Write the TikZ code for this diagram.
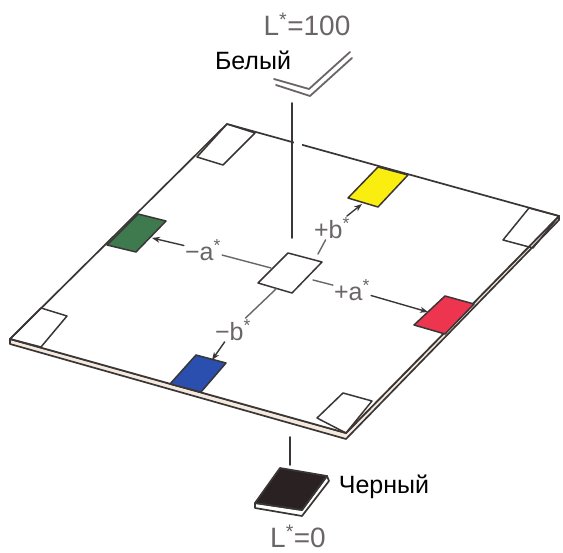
\documentclass[tikz,border=0pt]{standalone}
\usepackage{fontspec}
\setmainfont{Liberation Sans}
\usetikzlibrary{arrows.meta,calc}
\definecolor{ink}{HTML}{3A3636}
\definecolor{lbl}{HTML}{6A6666}
\definecolor{cream}{HTML}{F4E9DE}
\definecolor{pgreen}{HTML}{3E7A4E}
\definecolor{pyellow}{HTML}{FAEE10}
\definecolor{pred}{HTML}{EE3550}
\definecolor{pblue}{HTML}{2A4FAE}
\definecolor{pblack}{HTML}{2A2222}
\begin{document}
\begin{tikzpicture}[x=1pt,y=-1pt,line join=round,line cap=round,
  edge/.style={draw=ink,line width=1.7pt},
  patch/.style={draw=ink,line width=1.5pt},
  axisline/.style={draw=ink,line width=1.8pt},
  lab/.style={text=lbl,font=\fontsize{25}{25}\selectfont,inner sep=1pt},
  big/.style={text=lbl,font=\fontsize{28}{28}\selectfont,inner sep=1pt},
  rus/.style={text=black,font=\fontsize{25}{25}\selectfont,inner sep=1pt},
  link/.style={draw=lbl,line width=1.4pt},
  arr/.style={draw=ink,line width=1.4pt,-{Stealth[length=8pt,width=6pt]}}]
\useasboundingbox (0,0) rectangle (563,553);
% plate corners
\coordinate (T) at (227,124);
\coordinate (R) at (559,216);
\coordinate (B) at (346,433);
\coordinate (L) at (10,339);
% plate thickness
\draw[edge,fill=cream] (L) -- ++(0,5) -- ($(B)+(0,6)$) -- ($(R)+(0,4)$) -- (R) -- (B) -- cycle;
% plate top
\draw[edge,fill=white] (T) -- (R) -- (B) -- (L) -- cycle;
% corner squares
\draw[patch] (T) -- (255,133) -- (223,165) -- (197,157) -- cycle;
\draw[patch] (R) -- (529,208) -- (503,240) -- (533,248) -- cycle;
\draw[patch] (B) -- (317,418) -- (343,393) -- (372,401) -- cycle;
\draw[patch] (L) -- (41,308) -- (67,316) -- (41,347) -- cycle;
% coloured patches
\draw[patch,fill=pgreen] (138,214) -- (166,221) -- (136,252) -- (107,245) -- cycle;
\coordinate (green) at (152,238);
\draw[patch,fill=pyellow] (378,167) -- (408,175) -- (378,207) -- (348,198) -- cycle;
\coordinate (yellow) at (362,204);
\draw[patch,fill=pred] (445,296) -- (474,304) -- (445,334) -- (414,325) -- cycle;
\coordinate (red) at (428,312);
\draw[patch,fill=pblue] (196,355) -- (226,363) -- (201,392) -- (170,384) -- cycle;
\coordinate (blue) at (212,360);
% centre patch
\draw[patch,fill=white] (288,253) -- (322,262) -- (292,293) -- (258,283) -- cycle;
\coordinate (cl) at (271,268);
\coordinate (ct) at (318,254);
\coordinate (cr) at (313,280);
\coordinate (cb) at (276,289);
% vertical axis (above)
\fill[white] (294,139) rectangle (302,150);
\draw[axisline] (292,103) -- (292,238);
% white sheet
\draw[axisline,draw=lbl] (274,79) -- (309,89) -- (350,52);
\draw[axisline,draw=lbl] (276,85) -- (310,96) -- (352,58);
% labels
\node[big] (l100) at (307,24) {L\textsuperscript{*}=100};
\node[rus] (white) at (253,60) {Белый};
\node[lab] (ma) at (203,250) {−a\textsuperscript{*}};
\node[lab] (pb) at (332,228) {+b\textsuperscript{*}};
\node[lab] (pa) at (352,290) {+a\textsuperscript{*}};
\node[lab] (mb) at (233,330) {−b\textsuperscript{*}};
% connectors
\draw[link] (cl) -- (ma);
\draw[arr] (ma) -- (green);
\draw[link] (ct) -- (pb);
\draw[arr] (pb) -- (yellow);
\draw[link] (cr) -- (pa);
\draw[arr] (pa) -- (red);
\draw[link] (cb) -- (mb);
\draw[arr] (mb) -- (blue);
% lower axis and black sample
\draw[axisline] (290,437) -- (290,465);
\draw[edge,fill=white] (255,503) -- ++(0,5) -- (302,516) -- (329,481) -- (327,476) -- (302,510) -- cycle;
\draw[edge,fill=pblack] (280,468) -- (327,476) -- (302,510) -- (255,503) -- cycle;
\node[rus] (black) at (384,487) {Черный};
\node[big] (l0) at (298,536) {L\textsuperscript{*}=0};
\end{tikzpicture}
\end{document}
